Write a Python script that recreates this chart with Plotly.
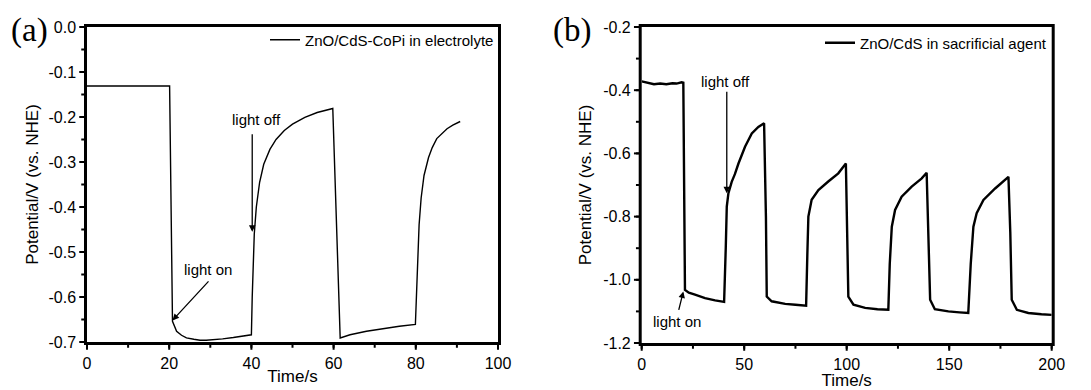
import plotly.graph_objects as go

# Panel (a): ZnO/CdS-CoPi in electrolyte
time_a = [0, 5, 10, 15, 20.1, 20.8, 21.8, 23, 24.2, 26, 27.5, 29, 30.7, 33, 35.6, 38, 40,
          40.2, 40.4, 40.7, 41.2, 42, 43, 44.5, 46, 48, 50, 53, 56, 59.8,
          61.6, 64, 68, 72, 76, 79.9,
          80.2, 80.5, 80.8, 81.3, 82, 83.1, 84, 85.1, 87.6, 89, 90.8]
pot_a = [-0.131, -0.131, -0.131, -0.131, -0.131, -0.654, -0.676, -0.685, -0.691, -0.694, -0.696, -0.696, -0.695, -0.693, -0.690, -0.687, -0.684,
         -0.60, -0.52, -0.46, -0.40, -0.345, -0.305, -0.272, -0.250, -0.230, -0.216, -0.201, -0.190, -0.181,
         -0.691, -0.684, -0.676, -0.670, -0.665, -0.661,
         -0.58, -0.50, -0.44, -0.38, -0.33, -0.29, -0.268, -0.248, -0.226, -0.218, -0.210]

# Panel (b): ZnO/CdS in sacrificial agent
time_b = [0, 3, 6, 9, 12, 15, 17, 19.5, 20.3, 21.1, 23, 26, 30.9, 35.8, 40.2,
          41.0, 41.5, 42.3, 43.9, 45.5, 47.2, 50.4, 53.7, 56.9, 59.7,
          60.6, 61.0, 63.4, 70, 75, 80.2,
          80.8, 81.3, 82.9, 86.2, 91, 95.9, 99.6,
          100.3, 100.8, 103.3, 109, 115, 120.3,
          121.0, 122, 123.6, 126.8, 131.7, 136.6, 139,
          139.8, 140.7, 143, 149.6, 155, 159.3,
          160.5, 161.8, 163.4, 166.7, 172.4, 176, 178.9,
          179.8, 180.5, 183, 188.6, 195, 200]
pot_b = [-0.372, -0.376, -0.381, -0.379, -0.381, -0.378, -0.379, -0.375, -0.376, -1.032, -1.041, -1.047, -1.058, -1.065, -1.070,
         -0.90, -0.768, -0.726, -0.690, -0.665, -0.632, -0.579, -0.537, -0.516, -0.505,
         -0.80, -1.053, -1.068, -1.076, -1.079, -1.082,
         -0.92, -0.800, -0.747, -0.716, -0.689, -0.663, -0.632,
         -0.85, -1.053, -1.079, -1.089, -1.093, -1.095,
         -0.95, -0.832, -0.779, -0.737, -0.705, -0.679, -0.661,
         -0.85, -1.063, -1.093, -1.100, -1.103, -1.105,
         -0.95, -0.832, -0.789, -0.747, -0.711, -0.690, -0.674,
         -0.85, -1.063, -1.095, -1.105, -1.109, -1.111]

label_a = "ZnO/CdS-CoPi in electrolyte"
label_b = "ZnO/CdS in sacrificial agent"
xticks_a = [0, 20, 40, 60, 80, 100]
yticks_a = [0.0, -0.1, -0.2, -0.3, -0.4, -0.5, -0.6, -0.7]
xticks_b = [0, 50, 100, 150, 200]
yticks_b = [-0.2, -0.4, -0.6, -0.8, -1.0, -1.2]

FONT = "Liberation Sans, Arial, sans-serif"
SERIF = "Liberation Serif, Times New Roman, serif"

# the page body adds an 8px offset, so the figure is 8px smaller than the window
W, H = 1083, 382

fig = go.Figure()
fig.add_trace(go.Scatter(x=time_a, y=pot_a, mode="lines", name=label_a, showlegend=True,
                         line=dict(color="black", width=1.4), xaxis="x", yaxis="y",
                         legend="legend"))
fig.add_trace(go.Scatter(x=time_b, y=pot_b, mode="lines", name=label_b, showlegend=True,
                         line=dict(color="black", width=2.4), xaxis="x2", yaxis="y2",
                         legend="legend2"))

axis_common = dict(showline=True, linecolor="black", linewidth=2.5, mirror=True,
                   ticks="outside", ticklen=5, tickwidth=2, tickcolor="black",
                   showgrid=False, zeroline=False,
                   tickfont=dict(family=FONT, size=16, color="black"))
minor_style = dict(ticks="outside", ticklen=3, tickwidth=2, tickcolor="black", showgrid=False)

fig.update_layout(
    width=W, height=H,
    margin=dict(l=0, r=0, t=0, b=0, autoexpand=False),
    template="simple_white",
    paper_bgcolor="white", plot_bgcolor="white",
    showlegend=True,
    font=dict(family=FONT, color="black"),
    xaxis=dict(domain=[79 / W, 490 / W], range=[0, 100], tickvals=xticks_a,
               minor=dict(dtick=10, **minor_style),
               title=dict(text="Time/s", font=dict(size=17), standoff=0), anchor="y",
               **axis_common),
    yaxis=dict(domain=[1 - 334 / H, 1 - 19 / H], range=[-0.7, 0.0], tickvals=yticks_a,
               ticktext=["0.0", "-0.1", "-0.2", "-0.3", "-0.4", "-0.5", "-0.6", "-0.7"],
               minor=dict(dtick=0.05, **minor_style),
               title=dict(text="Potential/V (vs. NHE)", font=dict(size=17), standoff=6), anchor="x",
               **axis_common),
    xaxis2=dict(domain=[633.7 / W, 1043.7 / W], range=[0, 200], tickvals=xticks_b,
                minor=dict(dtick=25, **minor_style),
                title=dict(text="Time/s", font=dict(size=17), standoff=0), anchor="y2",
                **axis_common),
    yaxis2=dict(domain=[1 - 335 / H, 1 - 19 / H], range=[-1.2, -0.2], tickvals=yticks_b,
                ticktext=["-0.2", "-0.4", "-0.6", "-0.8", "-1.0", "-1.2"],
                minor=dict(dtick=0.1, **minor_style),
                title=dict(text="Potential/V (vs. NHE)", font=dict(size=17), standoff=8), anchor="x2",
                **axis_common),
    legend=dict(x=491 / W, y=1 - 32 / H, xanchor="right", yanchor="middle", bgcolor="rgba(0,0,0,0)",
                font=dict(size=15, family=FONT), itemwidth=30, tracegroupgap=0),
    legend2=dict(x=1044 / W, y=1 - 35 / H, xanchor="right", yanchor="middle", bgcolor="rgba(0,0,0,0)",
                 font=dict(size=15, family=FONT), itemwidth=30, tracegroupgap=0),
)

ann_font = dict(family=FONT, size=15, color="black")
annotations = [
    dict(x=20.8, y=-0.652, ax=29.9, ay=-0.562, xref="x", yref="y", axref="x", ayref="y",
         showarrow=True, arrowhead=2, arrowsize=1, arrowwidth=1.3, arrowcolor="black", text=""),
    dict(x=29.5, y=-0.538, xref="x", yref="y", text="light on", showarrow=False, font=ann_font),
    dict(x=40.2, y=-0.455, ax=40.2, ay=-0.235, xref="x", yref="y", axref="x", ayref="y",
         showarrow=True, arrowhead=2, arrowsize=1, arrowwidth=1.3, arrowcolor="black", text=""),
    dict(x=41.3, y=-0.205, xref="x", yref="y", text="light off", showarrow=False, font=ann_font),
    dict(x=41.5, y=-0.726, ax=41.5, ay=-0.40, xref="x2", yref="y2", axref="x2", ayref="y2",
         showarrow=True, arrowhead=2, arrowsize=1, arrowwidth=1.3, arrowcolor="black", text=""),
    dict(x=40.7, y=-0.374, xref="x2", yref="y2", text="light off", showarrow=False, font=ann_font),
    dict(x=20.3, y=-1.037, ax=17.9, ay=-1.100, xref="x2", yref="y2", axref="x2", ayref="y2",
         showarrow=True, arrowhead=2, arrowsize=1, arrowwidth=1.3, arrowcolor="black", text=""),
    dict(x=17.1, y=-1.132, xref="x2", yref="y2", text="light on", showarrow=False, font=ann_font),
    dict(x=21 / W, y=1 - 23 / H, xref="paper", yref="paper", xanchor="center", yanchor="middle",
         text="(a)", showarrow=False, font=dict(family=SERIF, size=33, color="black")),
    dict(x=564 / W, y=1 - 23 / H, xref="paper", yref="paper", xanchor="center", yanchor="middle",
         text="(b)", showarrow=False, font=dict(family=SERIF, size=33, color="black")),
]
fig.update_layout(annotations=annotations)

# render axis frames and ticks with normal anti-aliasing instead of crispEdges
post_js = ("document.querySelectorAll('.crisp, .xtick, .ytick, path.xlines-above, path.ylines-above')"
           ".forEach(function(e){e.style.shapeRendering='auto';});")

fig.write_html("out.html", post_script=post_js)
